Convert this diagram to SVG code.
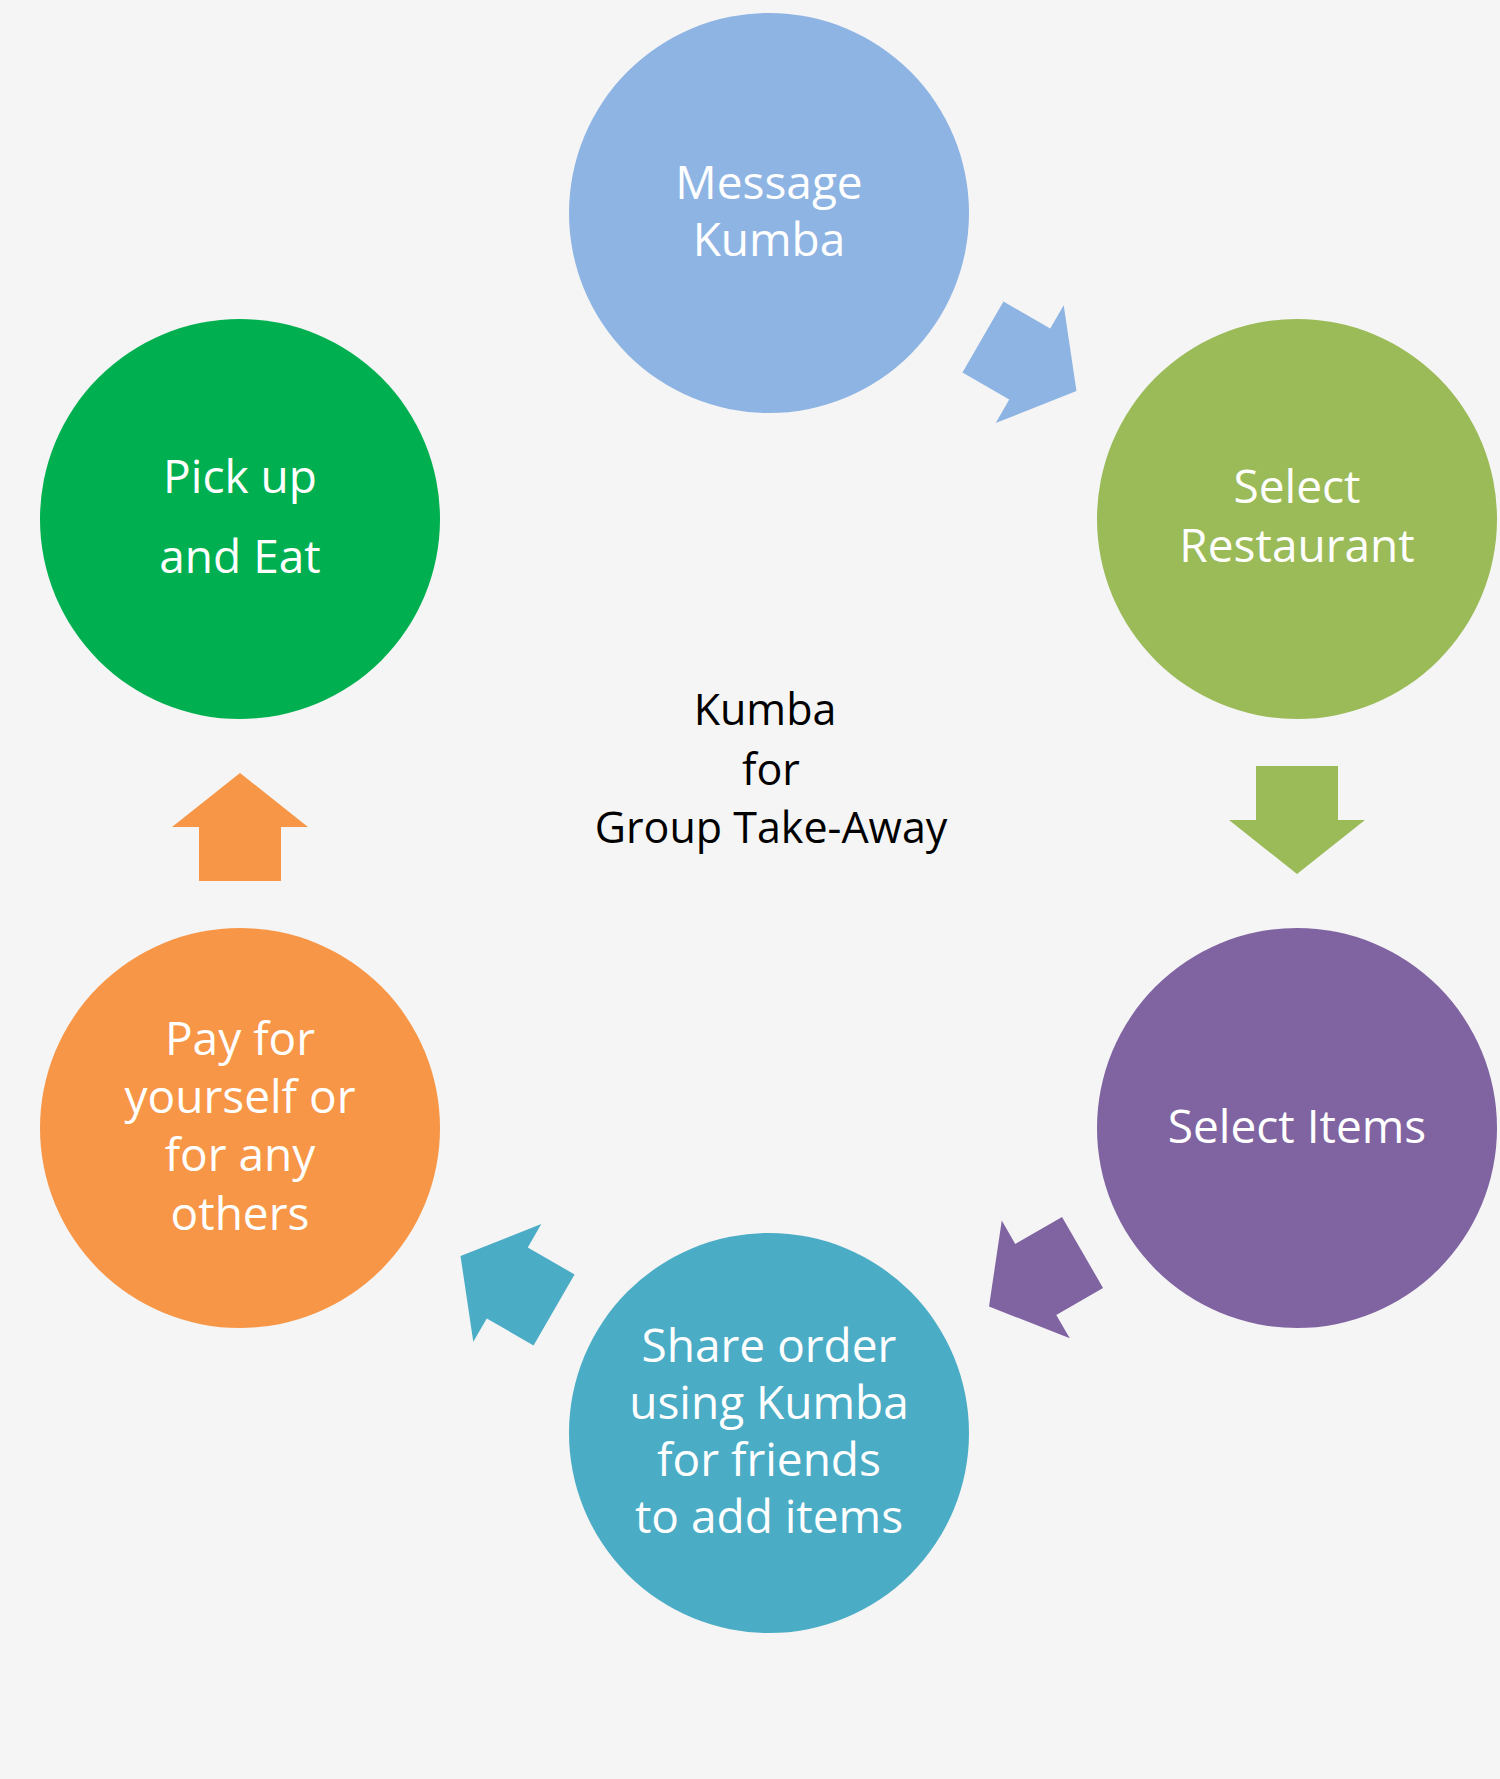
<svg xmlns="http://www.w3.org/2000/svg" width="1500" height="1779" viewBox="0 0 1500 1779">
<defs>
<style>
.lbl{font-family:"Open Sans","Liberation Sans",sans-serif;font-size:46px;fill:#ffffff;text-anchor:middle}
.ctr{font-family:"Open Sans","Liberation Sans",sans-serif;font-size:43px;fill:#000000;text-anchor:middle}
</style>
<polygon id="arr" points="-41,-54 41,-54 41,0 68,0 0,54 -68,0 -41,0"/>
</defs>
<rect x="0" y="0" width="1500" height="1779" fill="#F5F5F5"/>
<g id="connectors">
<use href="#arr" fill="#8EB4E3" transform="rotate(-60 768.5 823.5) translate(1297 820)"/>
<use href="#arr" fill="#9BBB59" transform="translate(1297 820)"/>
<use href="#arr" fill="#8064A2" transform="rotate(60 768.5 823.5) translate(1297 820)"/>
<use href="#arr" fill="#4BACC6" transform="rotate(120 768.5 823.5) translate(1297 820)"/>
<use href="#arr" fill="#F79646" transform="rotate(180 768.5 823.5) translate(1297 820)"/>
</g>
<g id="message">
<circle cx="769" cy="213" r="200" fill="#8EB4E3"/>
<text class="lbl" x="769" y="199">Message</text>
<text class="lbl" x="769" y="256">Kumba</text>
</g>
<g id="restaurant">
<circle cx="1297" cy="519" r="200" fill="#9BBB59"/>
<text class="lbl" x="1297" y="503">Select</text>
<text class="lbl" x="1297" y="562">Restaurant</text>
</g>
<g id="items">
<circle cx="1297" cy="1128" r="200" fill="#8064A2"/>
<text class="lbl" x="1297" y="1143">Select Items</text>
</g>
<g id="share">
<circle cx="769" cy="1433" r="200" fill="#4BACC6"/>
<text class="lbl" x="769" y="1362">Share order</text>
<text class="lbl" x="769" y="1419">using Kumba</text>
<text class="lbl" x="769" y="1476">for friends</text>
<text class="lbl" x="769" y="1533">to add items</text>
</g>
<g id="pay">
<circle cx="240" cy="1128" r="200" fill="#F79646"/>
<text class="lbl" x="240" y="1055">Pay for</text>
<text class="lbl" x="240" y="1113">yourself or</text>
<text class="lbl" x="240" y="1171">for any</text>
<text class="lbl" x="240" y="1230">others</text>
</g>
<g id="pickup">
<circle cx="240" cy="519" r="200" fill="#00B050"/>
<text class="lbl" x="240" y="493">Pick up</text>
<text class="lbl" x="240" y="573">and Eat</text>
</g>
<g id="center">
<text class="ctr" x="765" y="725">Kumba</text>
<text class="ctr" x="771" y="785">for</text>
<text class="ctr" x="771" y="843">Group Take-Away</text>
</g>
</svg>
